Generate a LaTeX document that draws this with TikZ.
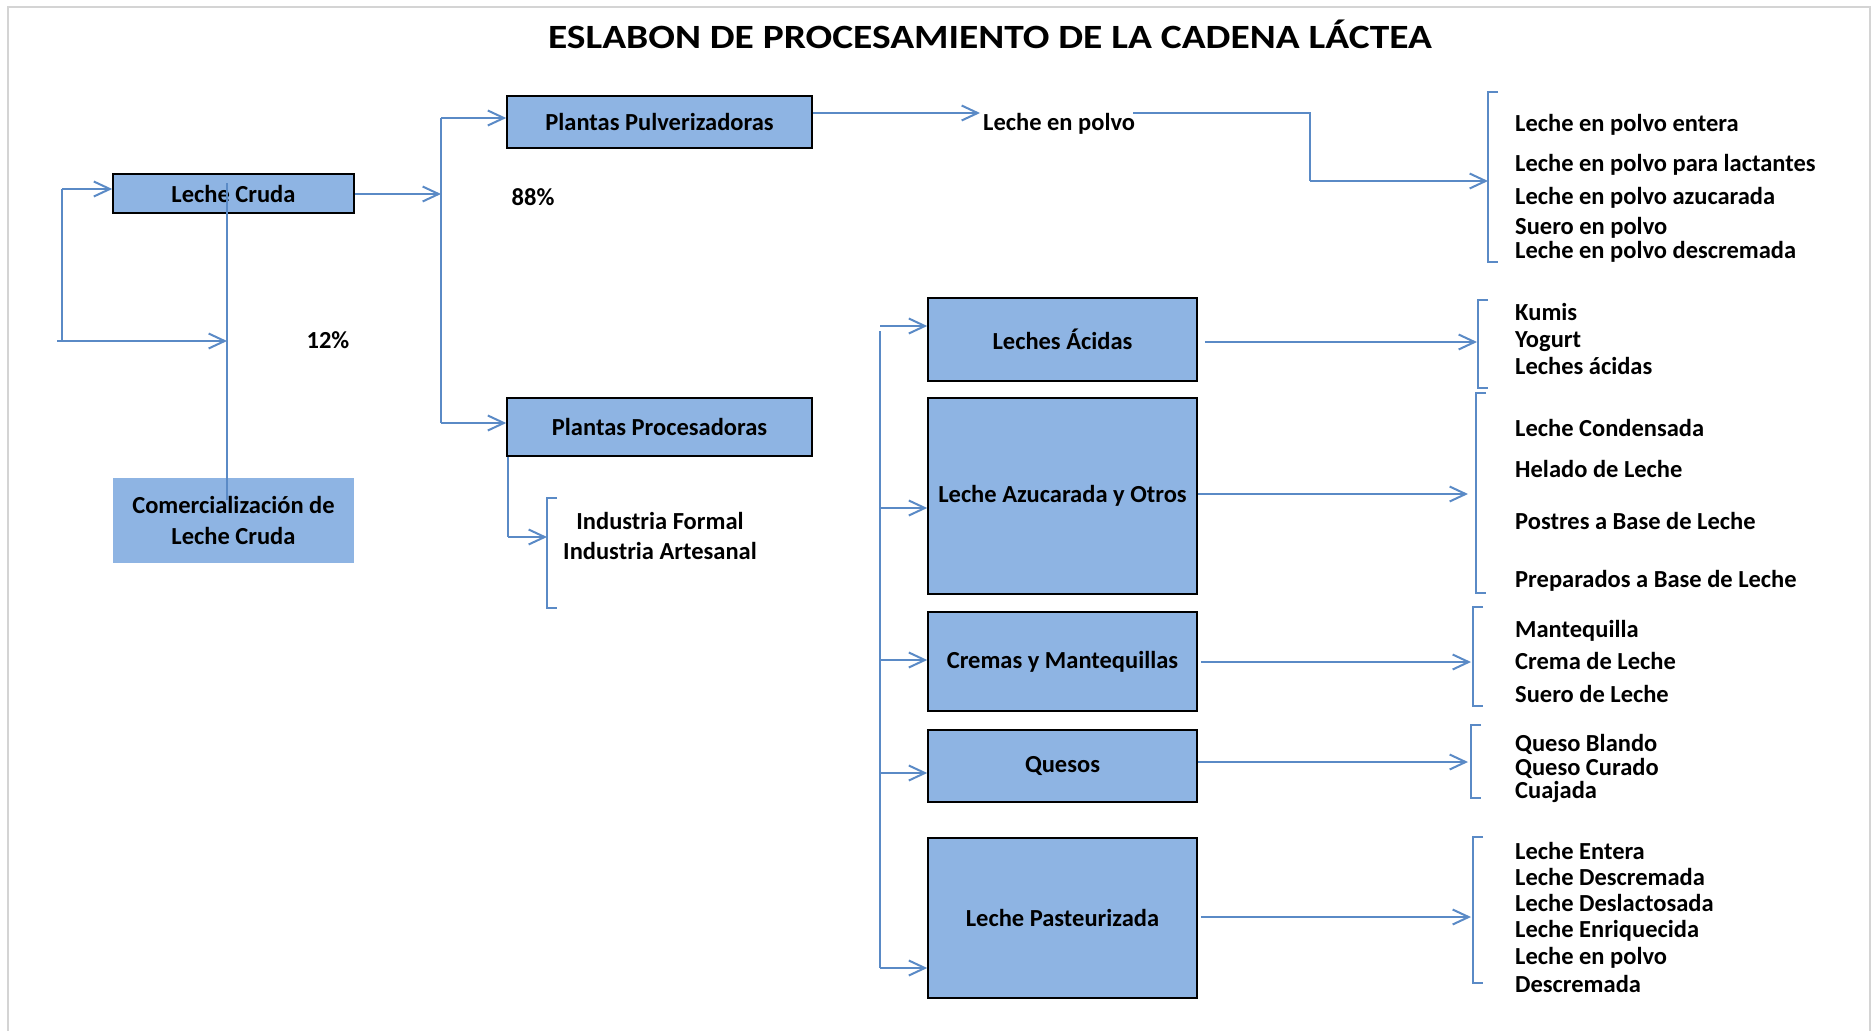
\documentclass[tikz,border=0pt]{standalone}
\usepackage{fontspec}
\usepackage{graphicx}
\setmainfont{Carlito}
\usetikzlibrary{arrows.meta}
\definecolor{boxblue}{HTML}{8EB4E3}
\definecolor{lineblue}{HTML}{5A8AC6}
\definecolor{framegray}{HTML}{D4D4D4}
\begin{document}
\begin{tikzpicture}[x=1pt,y=-1pt,
  every node/.style={font=\fontsize{24.5}{29}\selectfont\bfseries, inner sep=0pt, text=black},
  box/.style={draw=black, line width=1.6pt, fill=boxblue, align=center},
  plainbox/.style={fill=boxblue, align=center},
  conn/.style={draw=lineblue, line width=2pt},
  arr/.style={conn, -{Straight Barb[length=16pt,width=15pt]}},
  item/.style={anchor=base west},
  brk/.style={draw=lineblue, line width=1.8pt}]
\useasboundingbox (0,0) rectangle (1875,1031);
% frame
\draw[framegray, line width=2pt] (8,1031) -- (8,7) -- (1870,7) -- (1870,1031);
% title
\node[font=\fontsize{34}{40}\selectfont\bfseries] (title) at (990,34) {\scalebox{1.16}[1]{ESLABON DE PROCESAMIENTO DE LA CADENA LÁCTEA}};

% left boxes
\node[box, minimum width=241pt, minimum height=39pt] (lc) at (233.5,193.5) {Leche Cruda};
\node[plainbox, minimum width=241pt, minimum height=85pt] (com) at (233.5,520.5) {Comercialización de\\[2pt]Leche Cruda};
\node (p12) at (328,340) {12\%};
\node (p88) at (533,197) {88\%};

% left bracket and vertical
\coordinate (lbT) at (62,189);
\coordinate (lbB) at (62,341);
\coordinate (lbB0) at (57,341);
\coordinate (vT) at (227,183);
\coordinate (vB) at (227,500);
\coordinate (vM) at (227,341);
\draw[conn] (vT) -- (vB);
\draw[conn] (lbT) -- (lbB);
\draw[arr] (lbT) -- (lc.west |- lbT);
\draw[arr] (lbB0) -- (vM);

% spine 1
\coordinate (s1T) at (441,118);
\coordinate (s1B) at (441,423);
\coordinate (s1M) at (441,194);
\draw[conn] (s1T) -- (s1B);
\draw[arr] (lc.east |- s1M) -- (s1M);

\node[box, minimum width=305pt, minimum height=52pt] (pp) at (659.5,122) {Plantas Pulverizadoras};
\node[box, minimum width=305pt, minimum height=58pt] (ppr) at (659.5,427) {Plantas Procesadoras};
\draw[arr] (s1T) -- (pp.west |- s1T);
\draw[arr] (s1B) -- (ppr.west |- s1B);

% industria
\node[anchor=base] (if) at (660,529) {Industria Formal};
\node[anchor=base] (ia) at (660,559) {Industria Artesanal};
\coordinate (ibT) at (547,498);
\coordinate (ibB) at (547,608);
\coordinate (ibM) at (547,537);
\coordinate (ippC) at (509,537);
\draw[brk] (557,498) -- (ibT) -- (ibB) -- (557,608);
\draw[conn] (ppr.south west) ++(1.5,0) coordinate (ppsw) -- (ppsw |- ippC);
\draw[arr] (ppsw |- ippC) -- (ibM);

% leche en polvo
\node[anchor=base west] (lep) at (983,130) {Leche en polvo};
\coordinate (lepA) at (980,113);
\draw[arr] (pp.east |- lepA) -- (lepA);
\coordinate (lepB) at (1133,113);
\coordinate (lepC) at (1310,113);
\coordinate (lepD) at (1310,181);
\coordinate (b1M) at (1488,181);
\draw[conn] (lepB) -- (lepC) -- (lepD);
\draw[arr] (lepD) -- (b1M);
\draw[brk] (1498,92) -- (1488,92) -- (1488,262) -- (1498,262);
\node[item] (a1) at (1515,131) {Leche en polvo entera};
\node[item] (a2) at (1515,171) {Leche en polvo para lactantes};
\node[item] (a3) at (1515,204) {Leche en polvo azucarada};
\node[item] (a4) at (1515,234) {Suero en polvo};
\node[item] (a5) at (1515,258) {Leche en polvo descremada};

% lower boxes
\node[box, minimum width=269pt, minimum height=83pt] (la) at (1062.5,339.5) {Leches Ácidas};
\node[box, minimum width=269pt, minimum height=196pt] (az) at (1062.5,496) {Leche Azucarada y Otros};
\node[box, minimum width=269pt, minimum height=99pt] (cm) at (1062.5,661.5) {Cremas y Mantequillas};
\node[box, minimum width=269pt, minimum height=72pt] (qs) at (1062.5,766) {Quesos};
\node[box, minimum width=269pt, minimum height=160pt] (lp) at (1062.5,918) {Leche Pasteurizada};

% spine 2
\coordinate (s2A) at (880,326);
\coordinate (s2B) at (880,508);
\coordinate (s2C) at (880,660);
\coordinate (s2D) at (880,773);
\coordinate (s2E) at (880,968);
\draw[conn] (880,331) -- (s2E);
\draw[arr] (s2A) -- (la.west |- s2A);
\draw[arr] (s2B) -- (az.west |- s2B);
\draw[arr] (s2C) -- (cm.west |- s2C);
\draw[arr] (s2D) -- (qs.west |- s2D);
\draw[arr] (s2E) -- (lp.west |- s2E);

% right brackets
\coordinate (b2M) at (1477,342);
\coordinate (b3M) at (1468,494);
\coordinate (b4M) at (1471,662);
\coordinate (b5M) at (1468,762);
\coordinate (b6M) at (1471,917);
\draw[arr] ([xshift=7pt]la.east |- b2M) -- (b2M);
\draw[arr] (az.east |- b3M) -- (b3M);
\draw[arr] ([xshift=3pt]cm.east |- b4M) -- (b4M);
\draw[arr] (qs.east |- b5M) -- (b5M);
\draw[arr] ([xshift=3pt]lp.east |- b6M) -- (b6M);
\draw[brk] (1488,300) -- (1478,300) -- (1478,388) -- (1488,388);
\draw[brk] (1486,393) -- (1476,393) -- (1476,593) -- (1486,593);
\draw[brk] (1483,607) -- (1473,607) -- (1473,706) -- (1483,706);
\draw[brk] (1481,725) -- (1471,725) -- (1471,798) -- (1481,798);
\draw[brk] (1483,837) -- (1473,837) -- (1473,983) -- (1483,983);

\node[item] (k1) at (1515,320) {Kumis};
\node[item] (k2) at (1515,347) {Yogurt};
\node[item] (k3) at (1515,374) {Leches ácidas};
\node[item] (c1) at (1515,436) {Leche Condensada};
\node[item] (c2) at (1515,477) {Helado de Leche};
\node[item] (c3) at (1515,529) {Postres a Base de Leche};
\node[item] (c4) at (1515,587) {Preparados a Base de Leche};
\node[item] (m1) at (1515,637) {Mantequilla};
\node[item] (m2) at (1515,669) {Crema de Leche};
\node[item] (m3) at (1515,702) {Suero de Leche};
\node[item] (q1) at (1515,751) {Queso Blando};
\node[item] (q2) at (1515,775) {Queso Curado};
\node[item] (q3) at (1515,798) {Cuajada};
\node[item] (e1) at (1515,859) {Leche Entera};
\node[item] (e2) at (1515,885) {Leche Descremada};
\node[item] (e3) at (1515,911) {Leche Deslactosada};
\node[item] (e4) at (1515,937) {Leche Enriquecida};
\node[item] (e5) at (1515,964) {Leche en polvo};
\node[item] (e6) at (1515,992) {Descremada};
\end{tikzpicture}
\end{document}
